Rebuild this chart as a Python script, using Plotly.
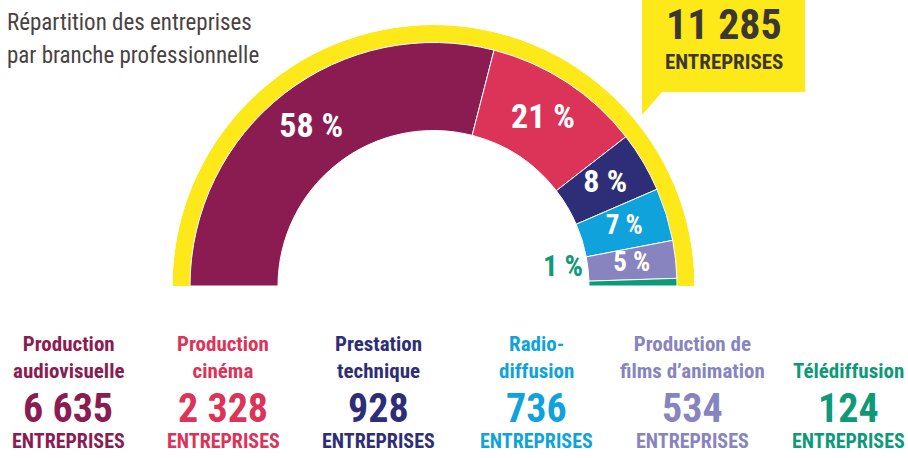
import plotly.graph_objects as go

# ---------------- data ----------------
categories = ["Production\naudiovisuelle", "Production\ncinéma", "Prestation\ntechnique",
              "Radio-\ndiffusion", "Production de\nfilms d’animation", "Télédiffusion"]
counts = [6635, 2328, 928, 736, 534, 124]
pct_labels = [58, 21, 8, 7, 5, 1]
total = 11285
unit = "ENTREPRISES"
title_lines = ["Répartition des entreprises", "par branche professionnelle"]

# ---------------- style ----------------
colors = ["#8B1C52", "#DC3359", "#2E2E78", "#10A3DB", "#8884C0", "#0E9A78"]
yellow = "#FDE81A"
dark = "#3d3733"
FONT = "Roboto Condensed, Open Sans Condensed, DejaVu Sans Condensed, sans-serif"

W, H = 908, 458
CX, CY = 433.5, 286.0
R_OUT, R_SEG, R_IN = 261.0, 243.5, 155.5


def px(x):
    return x / W


def py(y):
    return 1 - y / H


def fmt(n):
    return f"{n:,}".replace(",", " ")


# angular geometry from the data
s = sum(pct_labels)
widths = [p * 180.0 / s for p in pct_labels]
centers = []
acc = 0.0
for w in widths:
    centers.append(acc + w / 2)
    acc += w

fig = go.Figure()

# yellow outer ring
fig.add_trace(go.Barpolar(theta=[90], width=[180], base=[R_SEG], r=[R_OUT - R_SEG],
                          marker=dict(color=yellow, line=dict(width=0)),
                          hoverinfo="skip", showlegend=False))
# segments
fig.add_trace(go.Barpolar(theta=centers, width=widths, base=[R_IN] * len(pct_labels),
                          r=[R_SEG - R_IN] * len(pct_labels),
                          marker=dict(color=colors, line=dict(color="white", width=1)),
                          hoverinfo="skip", showlegend=False))
# inner labels
n_in = 5
fig.add_trace(go.Scatterpolar(
    theta=centers[:n_in], r=[(R_IN + R_SEG) / 2] * n_in, mode="text",
    text=[f"{p} %" for p in pct_labels[:n_in]],
    textfont=dict(family=FONT, size=[34, 34, 32, 27, 27], color="white", weight="bold"),
    hoverinfo="skip", showlegend=False))
# outside label for the smallest slice
fig.add_trace(go.Scatterpolar(
    theta=[centers[-1]], r=[R_IN - 6], mode="text", text=[f"{pct_labels[-1]} %"],
    textposition="top left",
    textfont=dict(family=FONT, size=29, color=colors[-1], weight="bold"),
    hoverinfo="skip", showlegend=False))

fig.update_layout(
    width=W, height=H, margin=dict(l=0, r=0, t=0, b=0),
    paper_bgcolor="white", plot_bgcolor="white",
    polar=dict(
        domain=dict(x=[px(CX - R_OUT), px(CX + R_OUT)], y=[py(CY), py(CY - R_OUT)]),
        sector=[0, 180], hole=0, bgcolor="rgba(0,0,0,0)",
        radialaxis=dict(range=[0, R_OUT], visible=False),
        angularaxis=dict(visible=False, direction="clockwise", rotation=180),
    ),
)

ann = []
# title
for i, line in enumerate(title_lines):
    ann.append(dict(x=px(5), y=py(23 + 33 * i), xref="paper", yref="paper", text=line,
                    showarrow=False, xanchor="left", yanchor="middle", align="left",
                    font=dict(family=FONT, size=23, color="#4a4242")))

# callout box
fig.add_shape(type="path", xref="paper", yref="paper",
              path=f"M {px(642)},{py(0)} L {px(805)},{py(0)} L {px(805)},{py(92)} "
                   f"L {px(662)},{py(92)} L {px(642)},{py(115)} Z",
              fillcolor=yellow, line=dict(width=0), layer="below")
ann.append(dict(x=px(724), y=py(25), xref="paper", yref="paper", text=f"<b>{fmt(total)}</b>",
                showarrow=False, xanchor="center", yanchor="middle",
                font=dict(family=FONT, size=42, color=dark)))
ann.append(dict(x=px(724), y=py(62), xref="paper", yref="paper", text=f"<b>{unit}</b>",
                showarrow=False, xanchor="center", yanchor="middle",
                font=dict(family=FONT, size=21, color=dark)))

# bottom columns
col_x = [68, 223, 378, 536, 692, 848]
for cx, name, n, c in zip(col_x, categories, counts, colors):
    ann.append(dict(x=px(cx), y=py(385), xref="paper", yref="paper",
                    text="<b>" + name.replace("\n", "<br>") + "</b>",
                    showarrow=False, xanchor="center", yanchor="bottom",
                    font=dict(family=FONT, size=21, color=c)))
    ann.append(dict(x=px(cx), y=py(408), xref="paper", yref="paper", text=f"<b>{fmt(n)}</b>",
                    showarrow=False, xanchor="center", yanchor="middle",
                    font=dict(family=FONT, size=40, color=c)))
    ann.append(dict(x=px(cx), y=py(441), xref="paper", yref="paper", text=f"<b>{unit}</b>",
                    showarrow=False, xanchor="center", yanchor="middle",
                    font=dict(family=FONT, size=20, color=c)))

fig.update_layout(annotations=ann)
fig.write_html("out.html", config={"displayModeBar": False},
               post_script="document.body.style.margin='0';")
